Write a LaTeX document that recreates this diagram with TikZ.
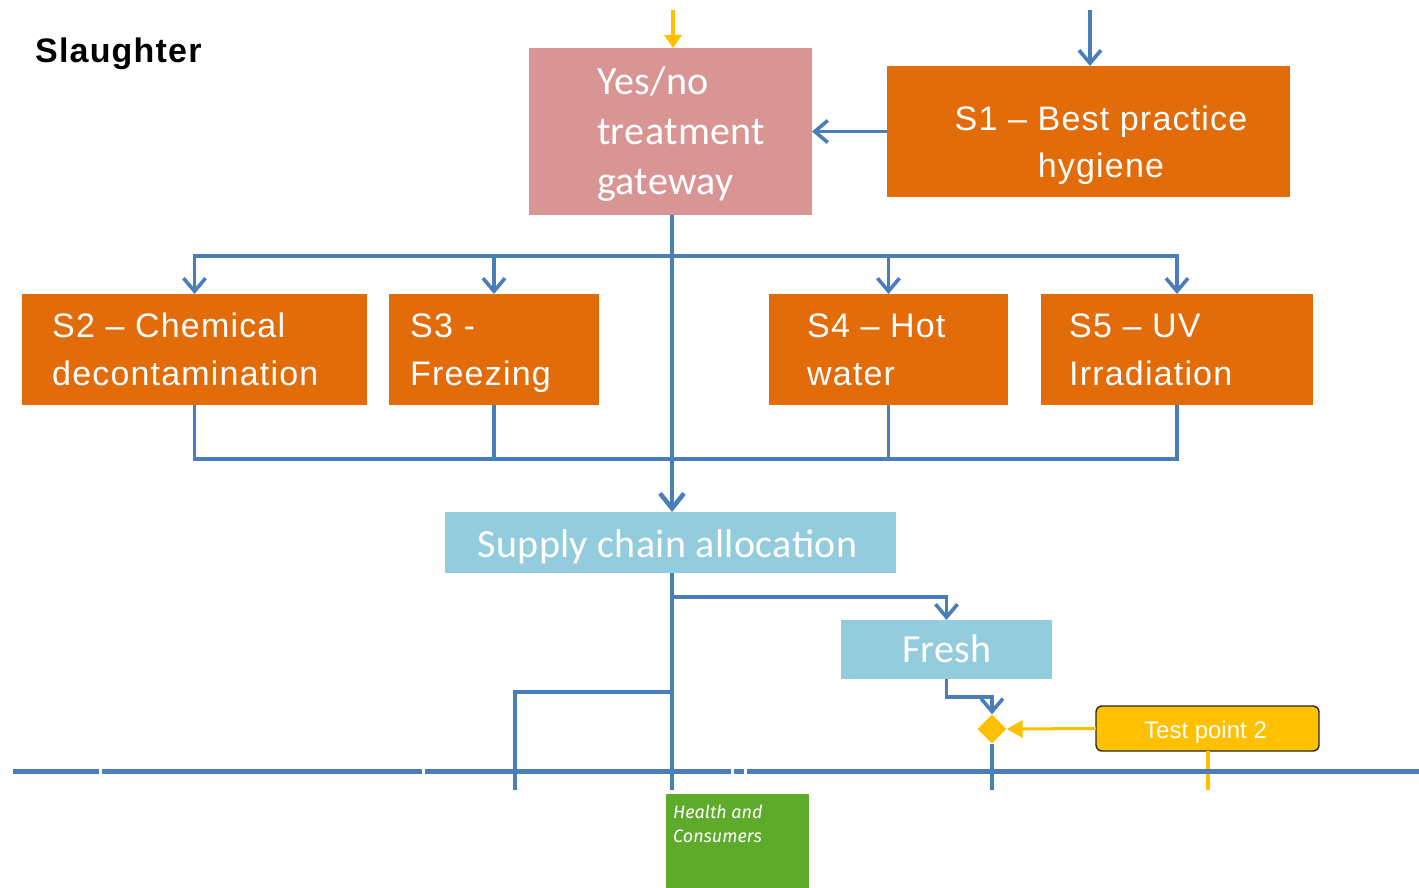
\documentclass[tikz,border=0pt]{standalone}
\usepackage{fontspec}
\setmainfont{Liberation Sans}
\newfontfamily\arialsp{Liberation Sans}[LetterSpace=3.5]
\newfontfamily\calib{Carlito}[LetterSpace=1]
\newfontfamily\firaf{Fira Sans}
\usetikzlibrary{arrows.meta,shapes.geometric}
\definecolor{cpink}{HTML}{D99594}
\definecolor{corange}{HTML}{E36C0A}
\definecolor{caqua}{HTML}{93CDDD}
\definecolor{cblue}{HTML}{4A7EBB}
\definecolor{cyellow}{HTML}{FFC000}
\definecolor{cgreen}{HTML}{5EAA2B}
\begin{document}
\begin{tikzpicture}[x=1pt,y=-1pt,
  box/.style={anchor=north west, inner sep=0pt, outer sep=0pt, draw=none},
  obox/.style={box, fill=corange, minimum height=111pt},
  otext/.style={anchor=base west, inner sep=0pt, text=white, font=\arialsp\fontsize{34}{34}\selectfont},
  ctext/.style={anchor=base, inner sep=0pt, text=white, font=\calib\fontsize{40}{40}\selectfont},
  bl/.style={draw=cblue, line width=3.6pt},
  barrow/.style={bl, -{Straight Barb[length=13pt,width=22pt]}},
  yl/.style={draw=cyellow, line width=3.6pt}]
\useasboundingbox (0,0) rectangle (1419,888);

% title
\node[anchor=base west, inner sep=0pt, font=\arialsp\bfseries\fontsize{34}{34}\selectfont] (title) at (35,63) {Slaughter};

% boxes
\node[box, fill=cpink, minimum width=283pt, minimum height=167pt] (yn) at (529,48) {};
\node[ctext, anchor=base west] (yn1) at (597,95) {Yes/no};
\node[ctext, anchor=base west] (yn2) at (597,145) {treatment};
\node[ctext, anchor=base west] (yn3) at (597,194) {gateway};

\node[box, fill=corange, minimum width=403pt, minimum height=131pt] (s1) at (887,66) {};
\node[otext, anchor=base] (s1a) at (1101,131) {S1 – Best practice};
\node[otext, anchor=base] (s1b) at (1101,178) {hygiene};

\node[obox, minimum width=345pt] (s2) at (22,294) {};
\node[otext] (s2a) at (52,337) {S2 – Chemical};
\node[otext] (s2b) at (52,385) {decontamination};

\node[obox, minimum width=210pt] (s3) at (389,294) {};
\node[otext] (s3a) at (410,337) {S3 -};
\node[otext] (s3b) at (410,385) {Freezing};

\node[obox, minimum width=239pt] (s4) at (769,294) {};
\node[otext] (s4a) at (807,337) {S4 – Hot};
\node[otext] (s4b) at (807,385) {water};

\node[obox, minimum width=272pt] (s5) at (1041,294) {};
\node[otext] (s5a) at (1069,337) {S5 – UV};
\node[otext] (s5b) at (1069,385) {Irradiation};

\node[box, fill=caqua, minimum width=451pt, minimum height=61pt] (sc) at (445,512) {};
\node[ctext] (sct) at (667.5,557) {Supply chain allocation};

\node[box, fill=caqua, minimum width=211pt, minimum height=59pt] (fr) at (841,620) {};
\node[ctext] (frt) at (947,662) {Fresh};

\node[diamond, fill=cyellow, minimum width=29pt, minimum height=29pt, inner sep=0pt] (dm) at (992,729) {};

\node[box, fill=cyellow, draw=black!85, line width=1.4pt, rounded corners=6pt, minimum width=223pt, minimum height=45pt] (tp) at (1096,706) {};
\node[anchor=base, inner sep=0pt, text=white, font=\fontsize{24}{24}\selectfont] (tpt) at (1205.5,738) {Test point 2};

% coordinates
\coordinate (ytop) at (673,10);
\coordinate (btop) at (1090,10);
\coordinate (mx) at (672,256);
\coordinate (cx) at (672,459);
\coordinate (b1) at (672,597);
\coordinate (b2) at (672,692);
\coordinate (e1) at (672,790);
\coordinate (e2) at (515,790);
\coordinate (e3) at (992,790);
\coordinate (e4) at (1208,790);

% connectors
\draw[yl, -{Triangle[length=13pt,width=17pt]}] (ytop) -- (ytop |- yn.north);
\draw[barrow] (btop) -- (btop |- s1.north);
\draw[barrow] (s1.west) -- (yn.east);
\draw[bl, line width=4.5pt, -{Straight Barb[length=15pt,width=24pt]}] (yn.south -| mx) -- (sc.north -| mx);
\draw[barrow] (mx) -| (s2.north);
\draw[barrow] (mx) -| (s3.north);
\draw[barrow] (mx) -| (s4.north);
\draw[barrow] (mx) -| (s5.north);
\draw[bl] (s2.south) |- (cx);
\draw[bl] (s3.south) |- (cx);
\draw[bl] (s4.south) |- (cx);
\draw[bl] (s5.south) |- (cx);
\draw[bl, line width=4pt] (sc.south -| mx) -- (e1);
\draw[barrow] (b1) -| (fr.north);
\draw[bl] (b2) -| (e2);
\draw[barrow] (fr.south) -- ++(0,18) -| (dm.north);
\draw[bl] (dm.south) -- (e3);
\draw[yl, line width=3pt, -{Triangle[length=16pt,width=17pt]}] (tp.west) -- (dm.east);
\draw[yl, line width=3.2pt] (tp.south -| e4) -- (e4);

% bottom bar
\draw[cblue, line width=5.5pt] (13,771.5) -- (99,771.5);
\draw[cblue, line width=5.5pt] (102,771.5) -- (422,771.5);
\draw[cblue, line width=5.5pt] (425,771.5) -- (731,771.5);
\draw[cblue, line width=5.5pt] (734,771.5) -- (744,771.5);
\draw[cblue, line width=5.5pt] (747,771.5) -- (1419,771.5);

% green footer
\node[box, fill=cgreen, minimum width=143pt, minimum height=94pt] (gr) at (666,794) {};
\node[anchor=base west, inner sep=0pt, text=white, font=\firaf\itshape\fontsize{18}{18}\selectfont] (gr1) at (673,818) {Health and};
\node[anchor=base west, inner sep=0pt, text=white, font=\firaf\itshape\fontsize{18}{18}\selectfont] (gr2) at (673,842) {Consumers};
\end{tikzpicture}
\end{document}
